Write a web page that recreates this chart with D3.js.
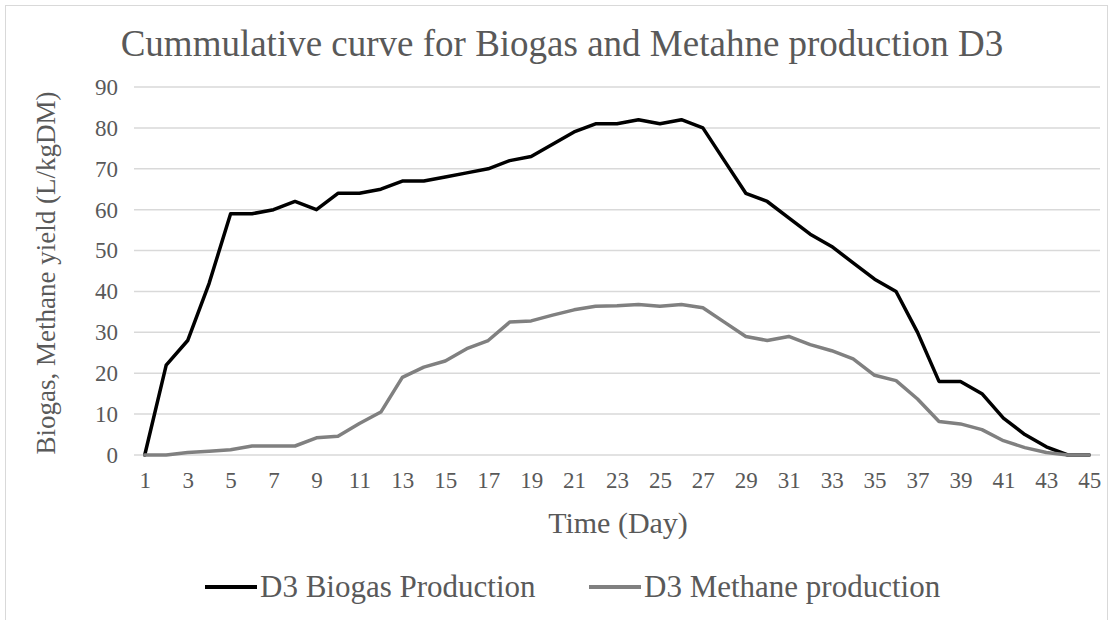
<!DOCTYPE html>
<html>
<head>
<meta charset="utf-8">
<script src="https://cdn.jsdelivr.net/npm/d3@7/dist/d3.min.js"></script>
<style>
  html, body { margin: 0; padding: 0; background: #fff; }
  svg { display: block; }
  text { font-family: "Liberation Serif", "DejaVu Serif", serif; fill: #595959; }
</style>
</head>
<body>
<svg id="chart" width="1120" height="620"></svg>
<script>
// Days of the digestion run
const days = d3.range(1, 46);

// Daily yields, L/kgDM
const biogas = [0, 22, 28, 42, 59, 59, 60, 62, 60, 64, 64, 65, 67, 67, 68, 69, 70, 72, 73, 76,
  79, 81, 81, 82, 81, 82, 80, 72, 64, 62, 58, 54, 51, 47, 43, 40, 30, 18, 18, 15,
  9, 5, 2, 0, 0];
const methane = [0, 0, 0.6, 0.9, 1.3, 2.2, 2.2, 2.2, 4.2, 4.6, 7.7, 10.5, 19, 21.5, 23, 26, 28, 32.5, 32.8, 34.2,
  35.5, 36.4, 36.5, 36.8, 36.4, 36.8, 36, 32.5, 29, 28, 29, 27, 25.5, 23.5, 19.5, 18.2, 13.7, 8.2, 7.6, 6.2,
  3.5, 1.8, 0.6, 0, 0];

const yTicks = [0, 10, 20, 30, 40, 50, 60, 70, 80, 90];
const xTickDays = days.filter(d => d % 2 === 1);

const series = [
  { name: "D3 Biogas Production", values: biogas, color: "#000000" },
  { name: "D3 Methane production", values: methane, color: "#808080" }
];

const svg = d3.select("#chart");
const plot = { left: 134, right: 1100, top: 87, bottom: 455 };

// Chart frame
svg.append("rect")
  .attr("x", 5.5).attr("y", 5.5)
  .attr("width", 1102).attr("height", 640)
  .attr("fill", "none").attr("stroke", "#d9d9d9").attr("stroke-width", 1);

const x = d3.scalePoint()
  .domain(days)
  .range([plot.left, plot.right])
  .padding(0.5);

const y = d3.scaleLinear()
  .domain([0, 90])
  .range([plot.bottom, plot.top]);

// Horizontal gridlines
svg.append("g")
  .selectAll("line")
  .data(yTicks)
  .join("line")
  .attr("x1", plot.left).attr("x2", plot.right)
  .attr("y1", d => y(d)).attr("y2", d => y(d))
  .attr("stroke", "#d9d9d9").attr("stroke-width", 1.5);

// Y axis labels
const yAxis = svg.append("g")
  .attr("transform", `translate(${plot.left},0)`)
  .call(d3.axisLeft(y).tickValues(yTicks).tickSize(0).tickPadding(16));
yAxis.select(".domain").remove();
yAxis.selectAll("text")
  .attr("font-size", 23)
  .attr("font-family", "Liberation Serif")
  .attr("fill", "#595959");

// X axis labels
const xAxis = svg.append("g")
  .attr("transform", `translate(0,${plot.bottom})`)
  .call(d3.axisBottom(x).tickValues(xTickDays).tickSize(0).tickPadding(17));
xAxis.select(".domain").remove();
xAxis.selectAll("text")
  .attr("font-size", 23)
  .attr("font-family", "Liberation Serif")
  .attr("fill", "#595959");

// Series lines
const line = d3.line()
  .x((v, i) => x(days[i]))
  .y(v => y(v));

svg.append("g")
  .selectAll("path")
  .data(series)
  .join("path")
  .attr("d", s => line(s.values))
  .attr("fill", "none")
  .attr("stroke", s => s.color)
  .attr("stroke-width", 3.5)
  .attr("stroke-linejoin", "round")
  .attr("stroke-linecap", "round");

// Title
svg.append("text")
  .attr("x", 562).attr("y", 56)
  .attr("text-anchor", "middle")
  .attr("font-size", 37)
  .text("Cummulative curve for Biogas and Metahne production D3");

// Axis titles
svg.append("text")
  .attr("x", 618).attr("y", 533)
  .attr("text-anchor", "middle")
  .attr("font-size", 30)
  .text("Time (Day)");

svg.append("text")
  .attr("transform", "translate(55,273) rotate(-90)")
  .attr("text-anchor", "middle")
  .attr("font-size", 27)
  .text("Biogas, Methane yield (L/kgDM)");

// Legend
const legendX = [205, 589];
const legend = svg.append("g")
  .selectAll("g")
  .data(series)
  .join("g")
  .attr("transform", (s, i) => `translate(${legendX[i]},587)`);
legend.append("line")
  .attr("x1", 0).attr("x2", 52)
  .attr("stroke", s => s.color)
  .attr("stroke-width", 4);
legend.append("text")
  .attr("x", 55).attr("y", 10)
  .attr("font-size", 31)
  .text(s => s.name);
</script>
</body>
</html>
